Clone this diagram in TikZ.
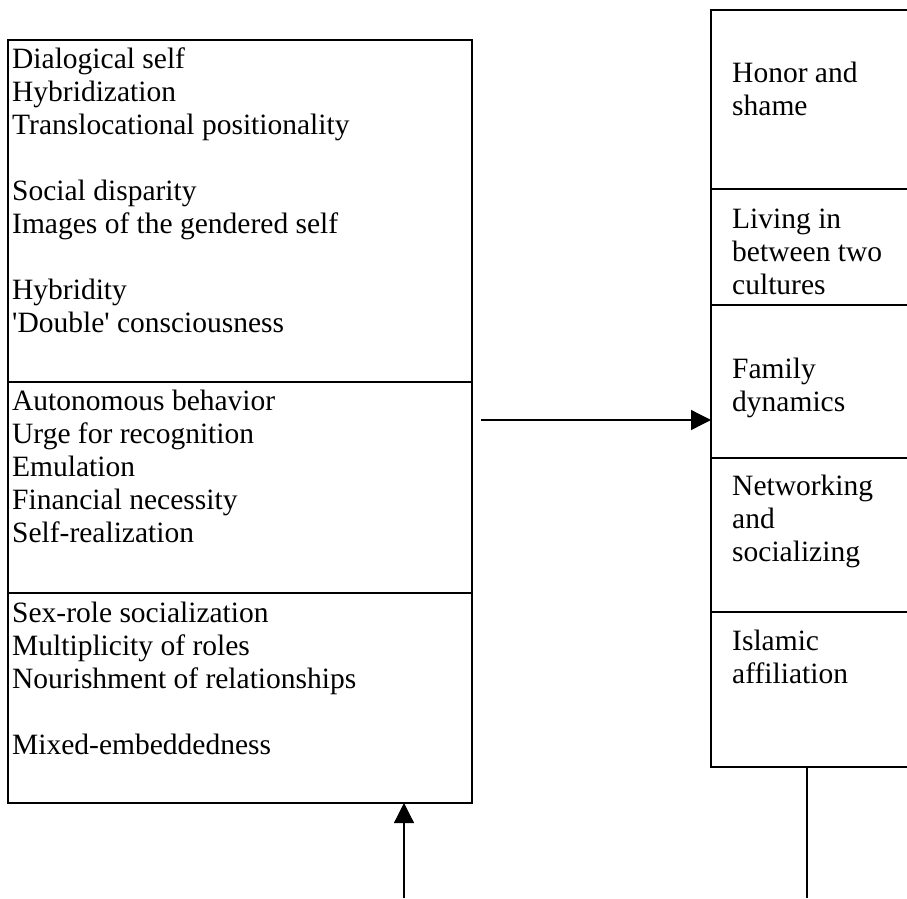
\documentclass[tikz,border=0pt]{standalone}
\usepackage{fontspec}
\setmainfont{Liberation Serif}
\usetikzlibrary{arrows.meta}
\begin{document}
\begin{tikzpicture}[x=1pt,y=-1pt,
  cell/.style={draw, line width=1.5pt, outer sep=0pt, inner sep=0pt, anchor=north west},
  txt/.style={anchor=base west, inner sep=0pt, font=\fontsize{29.5}{33}\selectfont},
  arr/.style={line width=1.3pt, -{Triangle[length=20pt,width=20pt]}},
  plainline/.style={line width=1.3pt}]
\useasboundingbox (0,0) rectangle (907,898);
\clip (0,0) rectangle (907,898);
% left box sections
\node[cell, minimum width=464pt, minimum height=342pt] (L1) at (8,40) {};
\node[cell, minimum width=464pt, minimum height=211pt] (L2) at (8,382) {};
\node[cell, minimum width=464pt, minimum height=210pt] (L3) at (8,593) {};
% right box sections
\node[cell, minimum width=230pt, minimum height=179pt] (R1) at (711,10) {};
\node[cell, minimum width=230pt, minimum height=116pt] (R2) at (711,189) {};
\node[cell, minimum width=230pt, minimum height=153pt] (R3) at (711,305) {};
\node[cell, minimum width=230pt, minimum height=154pt] (R4) at (711,458) {};
\node[cell, minimum width=230pt, minimum height=155pt] (R5) at (711,612) {};
% left texts
\node[txt] (a1) at (12,68) {Dialogical self};
\node[txt] (a2) at (12,101) {Hybridization};
\node[txt] (a3) at (12,134) {Translocational positionality};
\node[txt] (a4) at (12,200) {Social disparity};
\node[txt] (a5) at (12,233) {Images of the gendered self};
\node[txt] (a6) at (12,299) {Hybridity};
\node[txt] (a7) at (12,332) {\textquotesingle Double\textquotesingle{} consciousness};
\node[txt] (b1) at (12,410) {Autonomous behavior};
\node[txt] (b2) at (12,443) {Urge for recognition};
\node[txt] (b3) at (12,476) {Emulation};
\node[txt] (b4) at (12,509) {Financial necessity};
\node[txt] (b5) at (12,542) {Self-realization};
\node[txt] (c1) at (12,622) {Sex-role socialization};
\node[txt] (c2) at (12,655) {Multiplicity of roles};
\node[txt] (c3) at (12,688) {Nourishment of relationships};
\node[txt] (c4) at (12,754) {Mixed-embeddedness};
% right texts
\node[txt] (r1a) at (732,82) {Honor and};
\node[txt] (r1b) at (732,115) {shame};
\node[txt] (r2a) at (732,228) {Living in};
\node[txt] (r2b) at (732,261) {between two};
\node[txt] (r2c) at (732,294) {cultures};
\node[txt] (r3a) at (732,378) {Family};
\node[txt] (r3b) at (732,411) {dynamics};
\node[txt] (r4a) at (732,495) {Networking};
\node[txt] (r4b) at (732,528) {and};
\node[txt] (r4c) at (732,561) {socializing};
\node[txt] (r5a) at (732,650) {Islamic};
\node[txt] (r5b) at (732,683) {affiliation};
% connectors
\coordinate (hs) at (481,420);
\draw[arr] (hs) -- (hs -| R3.west);
\coordinate (vs) at (404,898);
\draw[arr] (vs) -- (vs |- L3.south);
\coordinate (ve) at (807,898);
\draw[plainline] (ve |- R5.south) -- (ve);
\end{tikzpicture}
\end{document}
